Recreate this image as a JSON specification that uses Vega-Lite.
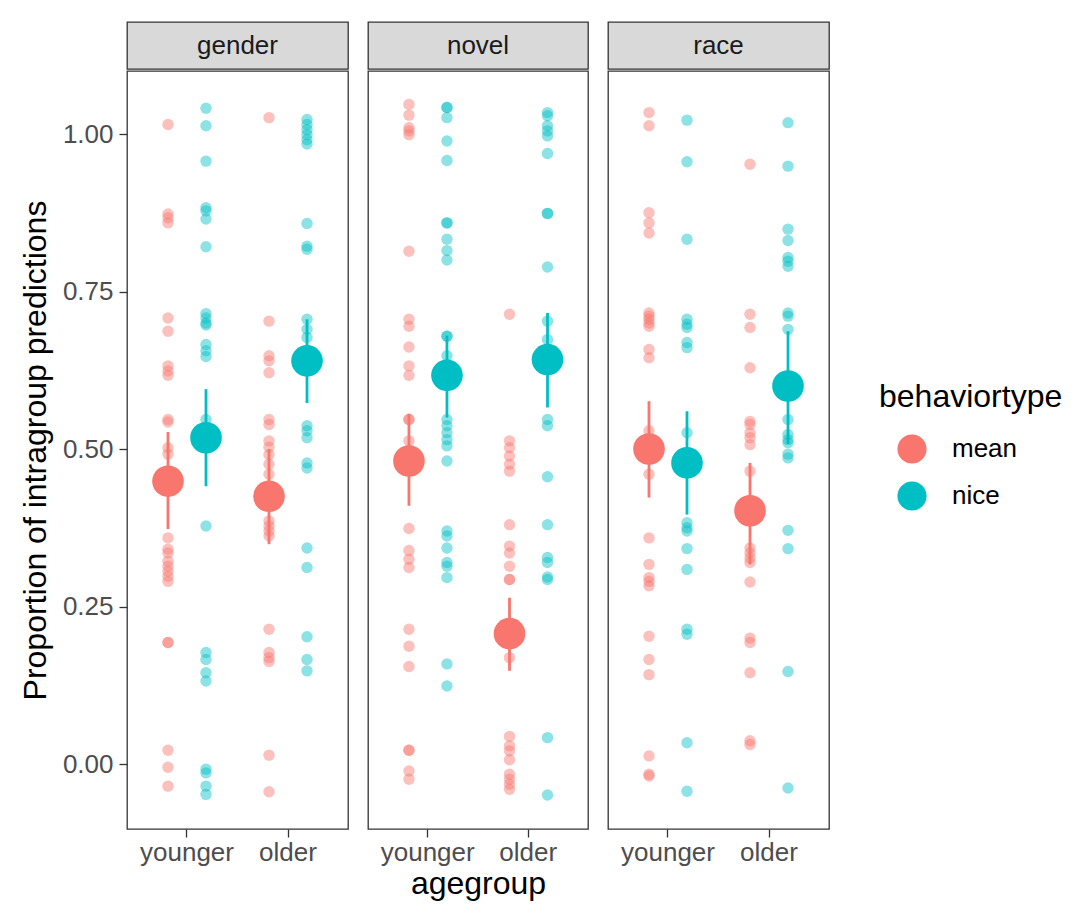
{
  "$schema": "https://vega.github.io/schema/vega-lite/v6.json",
  "padding": {"left": 18, "top": 21, "right": 5, "bottom": 5},
  "background": "white",
  "datasets": {
    "pts": [
      {"category":"gender","agegroup":"younger","behaviortype":"mean","value":1.015},
      {"category":"gender","agegroup":"younger","behaviortype":"mean","value":0.873},
      {"category":"gender","agegroup":"younger","behaviortype":"mean","value":0.867},
      {"category":"gender","agegroup":"younger","behaviortype":"mean","value":0.859},
      {"category":"gender","agegroup":"younger","behaviortype":"mean","value":0.708},
      {"category":"gender","agegroup":"younger","behaviortype":"mean","value":0.687},
      {"category":"gender","agegroup":"younger","behaviortype":"mean","value":0.632},
      {"category":"gender","agegroup":"younger","behaviortype":"mean","value":0.624},
      {"category":"gender","agegroup":"younger","behaviortype":"mean","value":0.617},
      {"category":"gender","agegroup":"younger","behaviortype":"mean","value":0.547},
      {"category":"gender","agegroup":"younger","behaviortype":"mean","value":0.543},
      {"category":"gender","agegroup":"younger","behaviortype":"mean","value":0.502},
      {"category":"gender","agegroup":"younger","behaviortype":"mean","value":0.492},
      {"category":"gender","agegroup":"younger","behaviortype":"mean","value":0.359},
      {"category":"gender","agegroup":"younger","behaviortype":"mean","value":0.341},
      {"category":"gender","agegroup":"younger","behaviortype":"mean","value":0.335},
      {"category":"gender","agegroup":"younger","behaviortype":"mean","value":0.322},
      {"category":"gender","agegroup":"younger","behaviortype":"mean","value":0.314},
      {"category":"gender","agegroup":"younger","behaviortype":"mean","value":0.306},
      {"category":"gender","agegroup":"younger","behaviortype":"mean","value":0.298},
      {"category":"gender","agegroup":"younger","behaviortype":"mean","value":0.290},
      {"category":"gender","agegroup":"younger","behaviortype":"mean","value":0.193},
      {"category":"gender","agegroup":"younger","behaviortype":"mean","value":0.193},
      {"category":"gender","agegroup":"younger","behaviortype":"mean","value":0.022},
      {"category":"gender","agegroup":"younger","behaviortype":"mean","value":-0.005},
      {"category":"gender","agegroup":"younger","behaviortype":"mean","value":-0.035},
      {"category":"gender","agegroup":"younger","behaviortype":"nice","value":1.041},
      {"category":"gender","agegroup":"younger","behaviortype":"nice","value":1.013},
      {"category":"gender","agegroup":"younger","behaviortype":"nice","value":0.957},
      {"category":"gender","agegroup":"younger","behaviortype":"nice","value":0.883},
      {"category":"gender","agegroup":"younger","behaviortype":"nice","value":0.878},
      {"category":"gender","agegroup":"younger","behaviortype":"nice","value":0.865},
      {"category":"gender","agegroup":"younger","behaviortype":"nice","value":0.821},
      {"category":"gender","agegroup":"younger","behaviortype":"nice","value":0.715},
      {"category":"gender","agegroup":"younger","behaviortype":"nice","value":0.708},
      {"category":"gender","agegroup":"younger","behaviortype":"nice","value":0.700},
      {"category":"gender","agegroup":"younger","behaviortype":"nice","value":0.697},
      {"category":"gender","agegroup":"younger","behaviortype":"nice","value":0.666},
      {"category":"gender","agegroup":"younger","behaviortype":"nice","value":0.656},
      {"category":"gender","agegroup":"younger","behaviortype":"nice","value":0.647},
      {"category":"gender","agegroup":"younger","behaviortype":"nice","value":0.547},
      {"category":"gender","agegroup":"younger","behaviortype":"nice","value":0.378},
      {"category":"gender","agegroup":"younger","behaviortype":"nice","value":0.177},
      {"category":"gender","agegroup":"younger","behaviortype":"nice","value":0.166},
      {"category":"gender","agegroup":"younger","behaviortype":"nice","value":0.145},
      {"category":"gender","agegroup":"younger","behaviortype":"nice","value":0.132},
      {"category":"gender","agegroup":"younger","behaviortype":"nice","value":-0.008},
      {"category":"gender","agegroup":"younger","behaviortype":"nice","value":-0.014},
      {"category":"gender","agegroup":"younger","behaviortype":"nice","value":-0.035},
      {"category":"gender","agegroup":"younger","behaviortype":"nice","value":-0.048},
      {"category":"gender","agegroup":"older","behaviortype":"mean","value":1.026},
      {"category":"gender","agegroup":"older","behaviortype":"mean","value":0.703},
      {"category":"gender","agegroup":"older","behaviortype":"mean","value":0.648},
      {"category":"gender","agegroup":"older","behaviortype":"mean","value":0.640},
      {"category":"gender","agegroup":"older","behaviortype":"mean","value":0.621},
      {"category":"gender","agegroup":"older","behaviortype":"mean","value":0.547},
      {"category":"gender","agegroup":"older","behaviortype":"mean","value":0.539},
      {"category":"gender","agegroup":"older","behaviortype":"mean","value":0.513},
      {"category":"gender","agegroup":"older","behaviortype":"mean","value":0.503},
      {"category":"gender","agegroup":"older","behaviortype":"mean","value":0.491},
      {"category":"gender","agegroup":"older","behaviortype":"mean","value":0.476},
      {"category":"gender","agegroup":"older","behaviortype":"mean","value":0.460},
      {"category":"gender","agegroup":"older","behaviortype":"mean","value":0.386},
      {"category":"gender","agegroup":"older","behaviortype":"mean","value":0.378},
      {"category":"gender","agegroup":"older","behaviortype":"mean","value":0.370},
      {"category":"gender","agegroup":"older","behaviortype":"mean","value":0.362},
      {"category":"gender","agegroup":"older","behaviortype":"mean","value":0.214},
      {"category":"gender","agegroup":"older","behaviortype":"mean","value":0.177},
      {"category":"gender","agegroup":"older","behaviortype":"mean","value":0.169},
      {"category":"gender","agegroup":"older","behaviortype":"mean","value":0.163},
      {"category":"gender","agegroup":"older","behaviortype":"mean","value":0.014},
      {"category":"gender","agegroup":"older","behaviortype":"mean","value":-0.044},
      {"category":"gender","agegroup":"older","behaviortype":"nice","value":1.023},
      {"category":"gender","agegroup":"older","behaviortype":"nice","value":1.015},
      {"category":"gender","agegroup":"older","behaviortype":"nice","value":1.007},
      {"category":"gender","agegroup":"older","behaviortype":"nice","value":0.999},
      {"category":"gender","agegroup":"older","behaviortype":"nice","value":0.991},
      {"category":"gender","agegroup":"older","behaviortype":"nice","value":0.984},
      {"category":"gender","agegroup":"older","behaviortype":"nice","value":0.858},
      {"category":"gender","agegroup":"older","behaviortype":"nice","value":0.822},
      {"category":"gender","agegroup":"older","behaviortype":"nice","value":0.817},
      {"category":"gender","agegroup":"older","behaviortype":"nice","value":0.706},
      {"category":"gender","agegroup":"older","behaviortype":"nice","value":0.690},
      {"category":"gender","agegroup":"older","behaviortype":"nice","value":0.677},
      {"category":"gender","agegroup":"older","behaviortype":"nice","value":0.537},
      {"category":"gender","agegroup":"older","behaviortype":"nice","value":0.529},
      {"category":"gender","agegroup":"older","behaviortype":"nice","value":0.518},
      {"category":"gender","agegroup":"older","behaviortype":"nice","value":0.478},
      {"category":"gender","agegroup":"older","behaviortype":"nice","value":0.470},
      {"category":"gender","agegroup":"older","behaviortype":"nice","value":0.343},
      {"category":"gender","agegroup":"older","behaviortype":"nice","value":0.312},
      {"category":"gender","agegroup":"older","behaviortype":"nice","value":0.202},
      {"category":"gender","agegroup":"older","behaviortype":"nice","value":0.166},
      {"category":"gender","agegroup":"older","behaviortype":"nice","value":0.148},
      {"category":"novel","agegroup":"younger","behaviortype":"mean","value":1.047},
      {"category":"novel","agegroup":"younger","behaviortype":"mean","value":1.030},
      {"category":"novel","agegroup":"younger","behaviortype":"mean","value":1.010},
      {"category":"novel","agegroup":"younger","behaviortype":"mean","value":1.005},
      {"category":"novel","agegroup":"younger","behaviortype":"mean","value":0.999},
      {"category":"novel","agegroup":"younger","behaviortype":"mean","value":0.814},
      {"category":"novel","agegroup":"younger","behaviortype":"mean","value":0.706},
      {"category":"novel","agegroup":"younger","behaviortype":"mean","value":0.695},
      {"category":"novel","agegroup":"younger","behaviortype":"mean","value":0.662},
      {"category":"novel","agegroup":"younger","behaviortype":"mean","value":0.632},
      {"category":"novel","agegroup":"younger","behaviortype":"mean","value":0.617},
      {"category":"novel","agegroup":"younger","behaviortype":"mean","value":0.547},
      {"category":"novel","agegroup":"younger","behaviortype":"mean","value":0.547},
      {"category":"novel","agegroup":"younger","behaviortype":"mean","value":0.513},
      {"category":"novel","agegroup":"younger","behaviortype":"mean","value":0.374},
      {"category":"novel","agegroup":"younger","behaviortype":"mean","value":0.339},
      {"category":"novel","agegroup":"younger","behaviortype":"mean","value":0.325},
      {"category":"novel","agegroup":"younger","behaviortype":"mean","value":0.312},
      {"category":"novel","agegroup":"younger","behaviortype":"mean","value":0.214},
      {"category":"novel","agegroup":"younger","behaviortype":"mean","value":0.187},
      {"category":"novel","agegroup":"younger","behaviortype":"mean","value":0.155},
      {"category":"novel","agegroup":"younger","behaviortype":"mean","value":0.022},
      {"category":"novel","agegroup":"younger","behaviortype":"mean","value":0.022},
      {"category":"novel","agegroup":"younger","behaviortype":"mean","value":-0.011},
      {"category":"novel","agegroup":"younger","behaviortype":"mean","value":-0.024},
      {"category":"novel","agegroup":"younger","behaviortype":"nice","value":1.042},
      {"category":"novel","agegroup":"younger","behaviortype":"nice","value":1.042},
      {"category":"novel","agegroup":"younger","behaviortype":"nice","value":1.026},
      {"category":"novel","agegroup":"younger","behaviortype":"nice","value":0.989},
      {"category":"novel","agegroup":"younger","behaviortype":"nice","value":0.958},
      {"category":"novel","agegroup":"younger","behaviortype":"nice","value":0.859},
      {"category":"novel","agegroup":"younger","behaviortype":"nice","value":0.859},
      {"category":"novel","agegroup":"younger","behaviortype":"nice","value":0.833},
      {"category":"novel","agegroup":"younger","behaviortype":"nice","value":0.815},
      {"category":"novel","agegroup":"younger","behaviortype":"nice","value":0.800},
      {"category":"novel","agegroup":"younger","behaviortype":"nice","value":0.679},
      {"category":"novel","agegroup":"younger","behaviortype":"nice","value":0.679},
      {"category":"novel","agegroup":"younger","behaviortype":"nice","value":0.648},
      {"category":"novel","agegroup":"younger","behaviortype":"nice","value":0.547},
      {"category":"novel","agegroup":"younger","behaviortype":"nice","value":0.537},
      {"category":"novel","agegroup":"younger","behaviortype":"nice","value":0.526},
      {"category":"novel","agegroup":"younger","behaviortype":"nice","value":0.515},
      {"category":"novel","agegroup":"younger","behaviortype":"nice","value":0.505},
      {"category":"novel","agegroup":"younger","behaviortype":"nice","value":0.481},
      {"category":"novel","agegroup":"younger","behaviortype":"nice","value":0.370},
      {"category":"novel","agegroup":"younger","behaviortype":"nice","value":0.362},
      {"category":"novel","agegroup":"younger","behaviortype":"nice","value":0.343},
      {"category":"novel","agegroup":"younger","behaviortype":"nice","value":0.320},
      {"category":"novel","agegroup":"younger","behaviortype":"nice","value":0.314},
      {"category":"novel","agegroup":"younger","behaviortype":"nice","value":0.296},
      {"category":"novel","agegroup":"younger","behaviortype":"nice","value":0.159},
      {"category":"novel","agegroup":"younger","behaviortype":"nice","value":0.124},
      {"category":"novel","agegroup":"older","behaviortype":"mean","value":0.714},
      {"category":"novel","agegroup":"older","behaviortype":"mean","value":0.513},
      {"category":"novel","agegroup":"older","behaviortype":"mean","value":0.502},
      {"category":"novel","agegroup":"older","behaviortype":"mean","value":0.489},
      {"category":"novel","agegroup":"older","behaviortype":"mean","value":0.476},
      {"category":"novel","agegroup":"older","behaviortype":"mean","value":0.465},
      {"category":"novel","agegroup":"older","behaviortype":"mean","value":0.380},
      {"category":"novel","agegroup":"older","behaviortype":"mean","value":0.346},
      {"category":"novel","agegroup":"older","behaviortype":"mean","value":0.335},
      {"category":"novel","agegroup":"older","behaviortype":"mean","value":0.314},
      {"category":"novel","agegroup":"older","behaviortype":"mean","value":0.293},
      {"category":"novel","agegroup":"older","behaviortype":"mean","value":0.293},
      {"category":"novel","agegroup":"older","behaviortype":"mean","value":0.169},
      {"category":"novel","agegroup":"older","behaviortype":"mean","value":0.044},
      {"category":"novel","agegroup":"older","behaviortype":"mean","value":0.029},
      {"category":"novel","agegroup":"older","behaviortype":"mean","value":0.021},
      {"category":"novel","agegroup":"older","behaviortype":"mean","value":0.007},
      {"category":"novel","agegroup":"older","behaviortype":"mean","value":-0.016},
      {"category":"novel","agegroup":"older","behaviortype":"mean","value":-0.024},
      {"category":"novel","agegroup":"older","behaviortype":"mean","value":-0.032},
      {"category":"novel","agegroup":"older","behaviortype":"mean","value":-0.040},
      {"category":"novel","agegroup":"older","behaviortype":"nice","value":1.034},
      {"category":"novel","agegroup":"older","behaviortype":"nice","value":1.029},
      {"category":"novel","agegroup":"older","behaviortype":"nice","value":1.013},
      {"category":"novel","agegroup":"older","behaviortype":"nice","value":1.005},
      {"category":"novel","agegroup":"older","behaviortype":"nice","value":0.997},
      {"category":"novel","agegroup":"older","behaviortype":"nice","value":0.969},
      {"category":"novel","agegroup":"older","behaviortype":"nice","value":0.874},
      {"category":"novel","agegroup":"older","behaviortype":"nice","value":0.874},
      {"category":"novel","agegroup":"older","behaviortype":"nice","value":0.789},
      {"category":"novel","agegroup":"older","behaviortype":"nice","value":0.703},
      {"category":"novel","agegroup":"older","behaviortype":"nice","value":0.674},
      {"category":"novel","agegroup":"older","behaviortype":"nice","value":0.547},
      {"category":"novel","agegroup":"older","behaviortype":"nice","value":0.537},
      {"category":"novel","agegroup":"older","behaviortype":"nice","value":0.456},
      {"category":"novel","agegroup":"older","behaviortype":"nice","value":0.380},
      {"category":"novel","agegroup":"older","behaviortype":"nice","value":0.328},
      {"category":"novel","agegroup":"older","behaviortype":"nice","value":0.320},
      {"category":"novel","agegroup":"older","behaviortype":"nice","value":0.297},
      {"category":"novel","agegroup":"older","behaviortype":"nice","value":0.293},
      {"category":"novel","agegroup":"older","behaviortype":"nice","value":0.042},
      {"category":"novel","agegroup":"older","behaviortype":"nice","value":-0.049},
      {"category":"race","agegroup":"younger","behaviortype":"mean","value":1.034},
      {"category":"race","agegroup":"younger","behaviortype":"mean","value":1.013},
      {"category":"race","agegroup":"younger","behaviortype":"mean","value":0.875},
      {"category":"race","agegroup":"younger","behaviortype":"mean","value":0.859},
      {"category":"race","agegroup":"younger","behaviortype":"mean","value":0.843},
      {"category":"race","agegroup":"younger","behaviortype":"mean","value":0.716},
      {"category":"race","agegroup":"younger","behaviortype":"mean","value":0.711},
      {"category":"race","agegroup":"younger","behaviortype":"mean","value":0.706},
      {"category":"race","agegroup":"younger","behaviortype":"mean","value":0.700},
      {"category":"race","agegroup":"younger","behaviortype":"mean","value":0.695},
      {"category":"race","agegroup":"younger","behaviortype":"mean","value":0.658},
      {"category":"race","agegroup":"younger","behaviortype":"mean","value":0.645},
      {"category":"race","agegroup":"younger","behaviortype":"mean","value":0.529},
      {"category":"race","agegroup":"younger","behaviortype":"mean","value":0.460},
      {"category":"race","agegroup":"younger","behaviortype":"mean","value":0.359},
      {"category":"race","agegroup":"younger","behaviortype":"mean","value":0.317},
      {"category":"race","agegroup":"younger","behaviortype":"mean","value":0.296},
      {"category":"race","agegroup":"younger","behaviortype":"mean","value":0.290},
      {"category":"race","agegroup":"younger","behaviortype":"mean","value":0.283},
      {"category":"race","agegroup":"younger","behaviortype":"mean","value":0.203},
      {"category":"race","agegroup":"younger","behaviortype":"mean","value":0.166},
      {"category":"race","agegroup":"younger","behaviortype":"mean","value":0.142},
      {"category":"race","agegroup":"younger","behaviortype":"mean","value":0.013},
      {"category":"race","agegroup":"younger","behaviortype":"mean","value":-0.016},
      {"category":"race","agegroup":"younger","behaviortype":"mean","value":-0.019},
      {"category":"race","agegroup":"younger","behaviortype":"nice","value":1.022},
      {"category":"race","agegroup":"younger","behaviortype":"nice","value":0.956},
      {"category":"race","agegroup":"younger","behaviortype":"nice","value":0.833},
      {"category":"race","agegroup":"younger","behaviortype":"nice","value":0.706},
      {"category":"race","agegroup":"younger","behaviortype":"nice","value":0.698},
      {"category":"race","agegroup":"younger","behaviortype":"nice","value":0.693},
      {"category":"race","agegroup":"younger","behaviortype":"nice","value":0.669},
      {"category":"race","agegroup":"younger","behaviortype":"nice","value":0.661},
      {"category":"race","agegroup":"younger","behaviortype":"nice","value":0.526},
      {"category":"race","agegroup":"younger","behaviortype":"nice","value":0.383},
      {"category":"race","agegroup":"younger","behaviortype":"nice","value":0.375},
      {"category":"race","agegroup":"younger","behaviortype":"nice","value":0.370},
      {"category":"race","agegroup":"younger","behaviortype":"nice","value":0.342},
      {"category":"race","agegroup":"younger","behaviortype":"nice","value":0.309},
      {"category":"race","agegroup":"younger","behaviortype":"nice","value":0.214},
      {"category":"race","agegroup":"younger","behaviortype":"nice","value":0.206},
      {"category":"race","agegroup":"younger","behaviortype":"nice","value":0.034},
      {"category":"race","agegroup":"younger","behaviortype":"nice","value":-0.043},
      {"category":"race","agegroup":"older","behaviortype":"mean","value":0.952},
      {"category":"race","agegroup":"older","behaviortype":"mean","value":0.714},
      {"category":"race","agegroup":"older","behaviortype":"mean","value":0.693},
      {"category":"race","agegroup":"older","behaviortype":"mean","value":0.629},
      {"category":"race","agegroup":"older","behaviortype":"mean","value":0.544},
      {"category":"race","agegroup":"older","behaviortype":"mean","value":0.539},
      {"category":"race","agegroup":"older","behaviortype":"mean","value":0.526},
      {"category":"race","agegroup":"older","behaviortype":"mean","value":0.518},
      {"category":"race","agegroup":"older","behaviortype":"mean","value":0.507},
      {"category":"race","agegroup":"older","behaviortype":"mean","value":0.465},
      {"category":"race","agegroup":"older","behaviortype":"mean","value":0.343},
      {"category":"race","agegroup":"older","behaviortype":"mean","value":0.335},
      {"category":"race","agegroup":"older","behaviortype":"mean","value":0.327},
      {"category":"race","agegroup":"older","behaviortype":"mean","value":0.320},
      {"category":"race","agegroup":"older","behaviortype":"mean","value":0.289},
      {"category":"race","agegroup":"older","behaviortype":"mean","value":0.200},
      {"category":"race","agegroup":"older","behaviortype":"mean","value":0.193},
      {"category":"race","agegroup":"older","behaviortype":"mean","value":0.145},
      {"category":"race","agegroup":"older","behaviortype":"mean","value":0.037},
      {"category":"race","agegroup":"older","behaviortype":"mean","value":0.031},
      {"category":"race","agegroup":"older","behaviortype":"nice","value":1.018},
      {"category":"race","agegroup":"older","behaviortype":"nice","value":0.949},
      {"category":"race","agegroup":"older","behaviortype":"nice","value":0.849},
      {"category":"race","agegroup":"older","behaviortype":"nice","value":0.831},
      {"category":"race","agegroup":"older","behaviortype":"nice","value":0.804},
      {"category":"race","agegroup":"older","behaviortype":"nice","value":0.798},
      {"category":"race","agegroup":"older","behaviortype":"nice","value":0.790},
      {"category":"race","agegroup":"older","behaviortype":"nice","value":0.716},
      {"category":"race","agegroup":"older","behaviortype":"nice","value":0.711},
      {"category":"race","agegroup":"older","behaviortype":"nice","value":0.690},
      {"category":"race","agegroup":"older","behaviortype":"nice","value":0.547},
      {"category":"race","agegroup":"older","behaviortype":"nice","value":0.523},
      {"category":"race","agegroup":"older","behaviortype":"nice","value":0.515},
      {"category":"race","agegroup":"older","behaviortype":"nice","value":0.510},
      {"category":"race","agegroup":"older","behaviortype":"nice","value":0.492},
      {"category":"race","agegroup":"older","behaviortype":"nice","value":0.486},
      {"category":"race","agegroup":"older","behaviortype":"nice","value":0.371},
      {"category":"race","agegroup":"older","behaviortype":"nice","value":0.342},
      {"category":"race","agegroup":"older","behaviortype":"nice","value":0.147},
      {"category":"race","agegroup":"older","behaviortype":"nice","value":-0.038}
    ],
    "summ": [
      {"category":"gender","agegroup":"younger","behaviortype":"mean","mean":0.449,"lower":0.373,"upper":0.527},
      {"category":"gender","agegroup":"younger","behaviortype":"nice","mean":0.518,"lower":0.441,"upper":0.595},
      {"category":"gender","agegroup":"older","behaviortype":"mean","mean":0.425,"lower":0.349,"upper":0.500},
      {"category":"gender","agegroup":"older","behaviortype":"nice","mean":0.640,"lower":0.573,"upper":0.706},
      {"category":"novel","agegroup":"younger","behaviortype":"mean","mean":0.481,"lower":0.410,"upper":0.556},
      {"category":"novel","agegroup":"younger","behaviortype":"nice","mean":0.617,"lower":0.550,"upper":0.680},
      {"category":"novel","agegroup":"older","behaviortype":"mean","mean":0.207,"lower":0.148,"upper":0.264},
      {"category":"novel","agegroup":"older","behaviortype":"nice","mean":0.642,"lower":0.566,"upper":0.716},
      {"category":"race","agegroup":"younger","behaviortype":"mean","mean":0.500,"lower":0.423,"upper":0.576},
      {"category":"race","agegroup":"younger","behaviortype":"nice","mean":0.478,"lower":0.396,"upper":0.560},
      {"category":"race","agegroup":"older","behaviortype":"mean","mean":0.402,"lower":0.317,"upper":0.478},
      {"category":"race","agegroup":"older","behaviortype":"nice","mean":0.600,"lower":0.508,"upper":0.687}
    ]
  },
  "spacing": 18,
  "hconcat": [
    {
      "spacing": 0,
      "vconcat": [
        {
          "data": {"values": [{"category": "gender"}]},
          "width": 221, "height": 47,
          "view": {"fill": "#D9D9D9", "stroke": "#333333", "strokeWidth": 1.3},
          "mark": {"type": "text", "fontSize": 26, "color": "#1A1A1A"},
          "encoding": {"text": {"field": "category"}}
        },
        {
          "width": 221, "height": 758,
          "layer": [
            {
              "encoding": {
                "x": {"field": "agegroup", "type": "nominal", "sort": ["younger", "older"], "scale": {"type": "band", "paddingInner": 0, "paddingOuter": 0.094}, "axis": {"title": null}},
                "xOffset": {"field": "behaviortype", "type": "nominal", "sort": ["mean", "nice"], "scale": {"paddingInner": 0, "paddingOuter": 0.329}},
                "color": {"field": "behaviortype", "type": "nominal", "scale": {"domain": ["mean", "nice"], "range": ["#F8766D", "#00BFC4"]}, "legend": {"title": "behaviortype", "symbolType": "circle", "orient": "none", "legendX": 752, "legendY": 360}}
              },
              "layer": [
                {
                  "data": {"name": "pts"},
                  "transform": [{"filter": "datum.category === 'gender'"}],
                  "mark": {"type": "circle", "size": 130, "opacity": 0.45},
                  "encoding": {
                    "y": {"field": "value", "type": "quantitative", "scale": {"domain": [-0.103, 1.1], "nice": false, "zero": false}, "title": "Proportion of intragroup predictions", "axis": {"values": [0, 0.25, 0.5, 0.75, 1], "format": ".2f"}}
                  }
                },
                {
                  "data": {"name": "summ"},
                  "transform": [{"filter": "datum.category === 'gender'"}],
                  "mark": {"type": "rule", "strokeWidth": 2.8},
                  "encoding": {
                    "y": {"field": "lower", "type": "quantitative", "scale": {"domain": [-0.103, 1.1], "nice": false, "zero": false}, "title": "Proportion of intragroup predictions", "axis": {"values": [0, 0.25, 0.5, 0.75, 1], "format": ".2f"}},
                    "y2": {"field": "upper"}
                  }
                },
                {
                  "data": {"name": "summ"},
                  "transform": [{"filter": "datum.category === 'gender'"}],
                  "mark": {"type": "circle", "size": 1000, "opacity": 1},
                  "encoding": {
                    "y": {"field": "mean", "type": "quantitative", "scale": {"domain": [-0.103, 1.1], "nice": false, "zero": false}, "title": "Proportion of intragroup predictions", "axis": {"values": [0, 0.25, 0.5, 0.75, 1], "format": ".2f"}}
                  }
                }
              ]
            },
            {
              "mark": {"type": "rule", "strokeDash": [14, 9], "strokeWidth": 2.5, "color": "#000000"},
              "encoding": {
                "y": {"datum": 0.5, "type": "quantitative", "scale": {"domain": [-0.103, 1.1], "nice": false, "zero": false}, "title": "Proportion of intragroup predictions", "axis": {"values": [0, 0.25, 0.5, 0.75, 1], "format": ".2f"}}
              }
            }
          ]
        }
      ]
    },
    {
      "spacing": 0,
      "vconcat": [
        {
          "data": {"values": [{"category": "novel"}]},
          "width": 220, "height": 47,
          "view": {"fill": "#D9D9D9", "stroke": "#333333", "strokeWidth": 1.3},
          "mark": {"type": "text", "fontSize": 26, "color": "#1A1A1A"},
          "encoding": {"text": {"field": "category"}}
        },
        {
          "width": 220, "height": 758,
          "layer": [
            {
              "encoding": {
                "x": {"field": "agegroup", "type": "nominal", "sort": ["younger", "older"], "scale": {"type": "band", "paddingInner": 0, "paddingOuter": 0.094}, "axis": {"title": "agegroup"}},
                "xOffset": {"field": "behaviortype", "type": "nominal", "sort": ["mean", "nice"], "scale": {"paddingInner": 0, "paddingOuter": 0.329}},
                "color": {"field": "behaviortype", "type": "nominal", "scale": {"domain": ["mean", "nice"], "range": ["#F8766D", "#00BFC4"]}, "legend": {"title": "behaviortype", "symbolType": "circle", "orient": "none", "legendX": 752, "legendY": 360}}
              },
              "layer": [
                {
                  "data": {"name": "pts"},
                  "transform": [{"filter": "datum.category === 'novel'"}],
                  "mark": {"type": "circle", "size": 130, "opacity": 0.45},
                  "encoding": {
                    "y": {"field": "value", "type": "quantitative", "scale": {"domain": [-0.103, 1.1], "nice": false, "zero": false}, "axis": null}
                  }
                },
                {
                  "data": {"name": "summ"},
                  "transform": [{"filter": "datum.category === 'novel'"}],
                  "mark": {"type": "rule", "strokeWidth": 2.8},
                  "encoding": {
                    "y": {"field": "lower", "type": "quantitative", "scale": {"domain": [-0.103, 1.1], "nice": false, "zero": false}, "axis": null},
                    "y2": {"field": "upper"}
                  }
                },
                {
                  "data": {"name": "summ"},
                  "transform": [{"filter": "datum.category === 'novel'"}],
                  "mark": {"type": "circle", "size": 1000, "opacity": 1},
                  "encoding": {
                    "y": {"field": "mean", "type": "quantitative", "scale": {"domain": [-0.103, 1.1], "nice": false, "zero": false}, "axis": null}
                  }
                }
              ]
            },
            {
              "mark": {"type": "rule", "strokeDash": [14, 9], "strokeWidth": 2.5, "color": "#000000"},
              "encoding": {
                "y": {"datum": 0.5, "type": "quantitative", "scale": {"domain": [-0.103, 1.1], "nice": false, "zero": false}, "axis": null}
              }
            }
          ]
        }
      ]
    },
    {
      "spacing": 0,
      "vconcat": [
        {
          "data": {"values": [{"category": "race"}]},
          "width": 221, "height": 47,
          "view": {"fill": "#D9D9D9", "stroke": "#333333", "strokeWidth": 1.3},
          "mark": {"type": "text", "fontSize": 26, "color": "#1A1A1A"},
          "encoding": {"text": {"field": "category"}}
        },
        {
          "width": 221, "height": 758,
          "layer": [
            {
              "encoding": {
                "x": {"field": "agegroup", "type": "nominal", "sort": ["younger", "older"], "scale": {"type": "band", "paddingInner": 0, "paddingOuter": 0.094}, "axis": {"title": null}},
                "xOffset": {"field": "behaviortype", "type": "nominal", "sort": ["mean", "nice"], "scale": {"paddingInner": 0, "paddingOuter": 0.329}},
                "color": {"field": "behaviortype", "type": "nominal", "scale": {"domain": ["mean", "nice"], "range": ["#F8766D", "#00BFC4"]}, "legend": {"title": "behaviortype", "symbolType": "circle", "orient": "none", "legendX": 752, "legendY": 360}}
              },
              "layer": [
                {
                  "data": {"name": "pts"},
                  "transform": [{"filter": "datum.category === 'race'"}],
                  "mark": {"type": "circle", "size": 130, "opacity": 0.45},
                  "encoding": {
                    "y": {"field": "value", "type": "quantitative", "scale": {"domain": [-0.103, 1.1], "nice": false, "zero": false}, "axis": null}
                  }
                },
                {
                  "data": {"name": "summ"},
                  "transform": [{"filter": "datum.category === 'race'"}],
                  "mark": {"type": "rule", "strokeWidth": 2.8},
                  "encoding": {
                    "y": {"field": "lower", "type": "quantitative", "scale": {"domain": [-0.103, 1.1], "nice": false, "zero": false}, "axis": null},
                    "y2": {"field": "upper"}
                  }
                },
                {
                  "data": {"name": "summ"},
                  "transform": [{"filter": "datum.category === 'race'"}],
                  "mark": {"type": "circle", "size": 1000, "opacity": 1},
                  "encoding": {
                    "y": {"field": "mean", "type": "quantitative", "scale": {"domain": [-0.103, 1.1], "nice": false, "zero": false}, "axis": null}
                  }
                }
              ]
            },
            {
              "mark": {"type": "rule", "strokeDash": [14, 9], "strokeWidth": 2.5, "color": "#000000"},
              "encoding": {
                "y": {"datum": 0.5, "type": "quantitative", "scale": {"domain": [-0.103, 1.1], "nice": false, "zero": false}, "axis": null}
              }
            }
          ]
        }
      ]
    }
  ],
  "config": {
    "font": "Liberation Sans",
    "view": {"stroke": "#333333", "strokeWidth": 1.3},
    "axis": {
      "domain": false, "grid": false,
      "tickColor": "#333333", "tickWidth": 1.3, "tickSize": 8,
      "labelColor": "#4D4D4D", "labelFontSize": 26, "labelFont": "Liberation Sans",
      "titleFont": "Liberation Sans", "titleFontSize": 32, "titleFontWeight": "normal", "titleColor": "#000000"
    },
    "axisX": {"labelPadding": 2, "titlePadding": 3, "labelAngle": 0},
    "axisY": {"labelPadding": 6, "titlePadding": 10},
    "legend": {
      "titleFont": "Liberation Sans", "titleFontSize": 32, "titleFontWeight": "normal", "titleColor": "#000000", "titleLimit": 400,
      "labelFont": "Liberation Sans", "labelFontSize": 26, "labelColor": "#000000", "labelLimit": 300,
      "symbolType": "circle", "symbolSize": 850, "symbolOpacity": 1, "symbolStrokeWidth": 0,
      "rowPadding": 17, "titlePadding": 20, "labelOffset": 25, "symbolOffset": 18
    }
  }
}
